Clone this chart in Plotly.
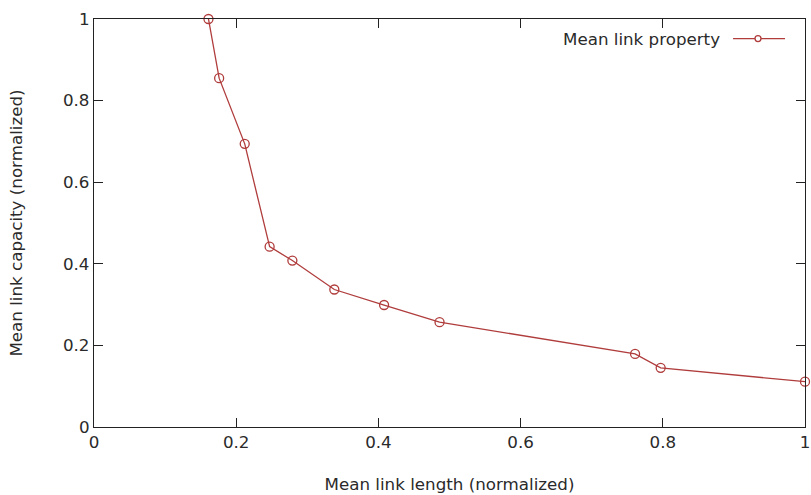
import plotly.graph_objects as go

# Data
link_length = [0.161, 0.176, 0.212, 0.247, 0.279, 0.338, 0.408, 0.486, 0.761, 0.797, 1.0]
link_capacity = [1.0, 0.855, 0.694, 0.442, 0.408, 0.337, 0.299, 0.257, 0.179, 0.145, 0.111]
series_name = "Mean link property"
x_title = "Mean link length (normalized)"
y_title = "Mean link capacity (normalized)"
tick_vals = [0, 0.2, 0.4, 0.6, 0.8, 1]
tick_text = ["0", "0.2", "0.4", "0.6", "0.8", "1"]

color = "#b03c3c"
font = dict(family="DejaVu Sans", size=16.7, color="#2a2a2a")

fig = go.Figure()
fig.add_trace(go.Scatter(
    x=link_length, y=link_capacity, mode="lines+markers", name=series_name,
    line=dict(color=color, width=1.3),
    marker=dict(symbol="circle-open", size=9, color=color, line=dict(width=1.3, color=color)),
    cliponaxis=False, showlegend=False,
))

axis_common = dict(
    range=[0, 1], tickvals=tick_vals, ticktext=tick_text, automargin=False,
    showgrid=False, zeroline=False, showline=True, linecolor="#222222", linewidth=1.3,
    mirror="ticks", ticks="inside", ticklen=9, tickwidth=1.3, tickcolor="#222222",
    tickfont=font,
)
fig.update_xaxes(**axis_common, title=dict(text=x_title, font=font, standoff=27))
fig.update_yaxes(**axis_common, title=dict(text=y_title, font=font, standoff=36))

# Legend (gnuplot-style: text left of sample)
fig.add_annotation(x=0.8833, y=0.952, xref="paper", yref="paper", text=series_name,
                   showarrow=False, xanchor="right", yanchor="middle", font=font)
fig.add_shape(type="line", xref="paper", yref="paper", x0=0.8988, x1=0.9719, y0=0.952, y1=0.952,
              line=dict(color=color, width=1.3))
fig.add_shape(type="circle", xref="paper", yref="paper", xsizemode="pixel", ysizemode="pixel",
              xanchor=0.9339, yanchor=0.952, x0=-3, x1=3, y0=-3, y1=3,
              line=dict(color=color, width=1.3), fillcolor="white")

fig.update_layout(
    width=811, height=495,
    margin=dict(l=93.5, r=6, t=18.5, b=67.5, autoexpand=False),
    plot_bgcolor="white", paper_bgcolor="white",
    font=font,
)
fig.write_html("out.html")
